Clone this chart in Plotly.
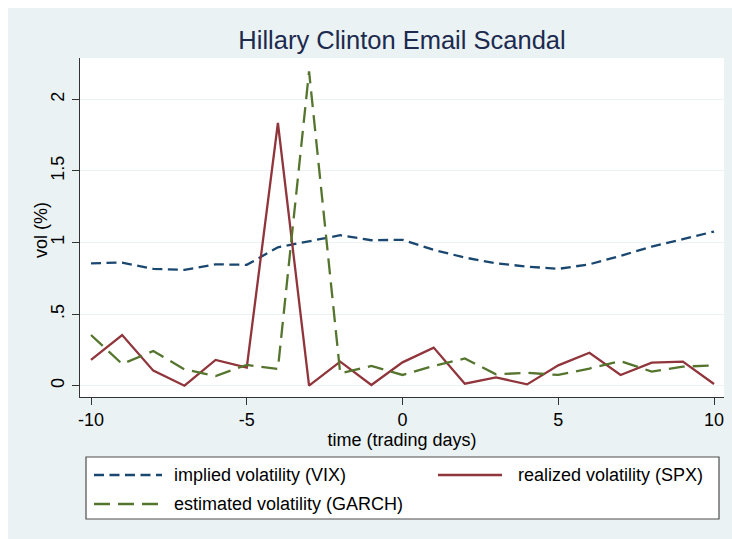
import plotly.graph_objects as go

# ---- data ----
days = list(range(-10, 11))
vix = [0.855, 0.86, 0.816, 0.809, 0.848, 0.844, 0.967, 1.007, 1.051, 1.016, 1.019,
       0.949, 0.895, 0.855, 0.832, 0.816, 0.848, 0.907, 0.972, 1.023, 1.077]
spx = [0.18, 0.354, 0.105, 0.0, 0.18, 0.126, 1.835, 0.0, 0.168, 0.005, 0.163,
       0.266, 0.014, 0.058, 0.009, 0.142, 0.23, 0.075, 0.161, 0.168, 0.012]
garch = [0.354, 0.152, 0.242, 0.114, 0.068, 0.145, 0.117, 2.196, 0.086, 0.138, 0.075,
         0.138, 0.19, 0.079, 0.09, 0.075, 0.12, 0.172, 0.098, 0.133, 0.142]

series_names = ["implied volatility (VIX)", "realized volatility (SPX)",
                "estimated volatility (GARCH)"]
y_tickvals = [0, 0.5, 1, 1.5, 2]
y_ticktext = ["0", ".5", "1", "1.5", "2"]
x_tickvals = [-10, -5, 0, 5, 10]
x_ticktext = ["-10", "-5", "0", "5", "10"]

# ---- style ----
W, H = 732, 539
ML, MR, MT, MB = 80, 8, 58, 142
PW, PH = W - ML - MR, H - MT - MB
BG = "#eaf2f3"
NAVY = "#1a476f"
MAROON = "#90353b"
GREEN = "#55752f"
FONT = "Liberation Sans, Arial, Helvetica, sans-serif"
FS = 18
VIX_DASH = "10px,5.5px"
GARCH_DASH = "16px,8px"
LW = 2.3


def px_x(p):
    return (p - ML) / PW


def px_y(p):
    return (H - MB - p) / PH


fig = go.Figure()
fig.add_trace(go.Scatter(x=days, y=vix, mode="lines", name=series_names[0],
                         line=dict(color=NAVY, width=LW, dash=VIX_DASH), showlegend=False))
fig.add_trace(go.Scatter(x=days, y=spx, mode="lines", name=series_names[1],
                         line=dict(color=MAROON, width=LW), showlegend=False))
fig.add_trace(go.Scatter(x=days, y=garch, mode="lines", name=series_names[2],
                         line=dict(color=GREEN, width=LW, dash=GARCH_DASH), showlegend=False))

shapes = []
annotations = []
# white outer margin (top and left strips)
shapes.append(dict(type="rect", xref="paper", yref="paper", x0=px_x(-20), x1=px_x(8),
                   y0=px_y(560), y1=px_y(-20), fillcolor="white", line=dict(width=0), layer="above"))
shapes.append(dict(type="rect", xref="paper", yref="paper", x0=px_x(-20), x1=px_x(760),
                   y0=px_y(8), y1=px_y(-20), fillcolor="white", line=dict(width=0), layer="above"))

# manual legend box
shapes.append(dict(type="rect", xref="paper", yref="paper", x0=px_x(86), x1=px_x(719),
                   y0=px_y(519), y1=px_y(457), fillcolor="white",
                   line=dict(color="#4d4d4d", width=1.2), layer="above"))
legend_items = [
    (series_names[0], NAVY, VIX_DASH, 94, 162, 475, 172),
    (series_names[1], MAROON, "solid", 438, 502, 475, 516),
    (series_names[2], GREEN, GARCH_DASH, 94, 160, 504, 172),
]
for name, col, dash, xa, xb, yy, xt in legend_items:
    shapes.append(dict(type="line", xref="paper", yref="paper", x0=px_x(xa), x1=px_x(xb),
                       y0=px_y(yy), y1=px_y(yy), line=dict(color=col, width=LW, dash=dash),
                       layer="above"))
    annotations.append(dict(text=name, xref="paper", yref="paper", x=px_x(xt), y=px_y(yy),
                            xanchor="left", yanchor="middle", showarrow=False,
                            font=dict(family=FONT, size=FS, color="black")))

# y-axis title placed explicitly
annotations.append(dict(text="vol (%)", xref="paper", yref="paper", x=px_x(41),
                        y=px_y(230), xanchor="center", yanchor="middle", textangle=-90,
                        showarrow=False, font=dict(family=FONT, size=FS, color="black")))

fig.update_layout(
    width=W, height=H,
    margin=dict(l=ML, r=MR, t=MT, b=MB, pad=0),
    paper_bgcolor=BG, plot_bgcolor="white",
    font=dict(family=FONT, size=FS, color="black"),
    title=dict(text="Hillary Clinton Email Scandal", x=0.5, xref="paper",
               y=1 - 40 / H, yref="container", xanchor="center", yanchor="middle",
               font=dict(family=FONT, size=25.5, color="#1c2a4f")),
    showlegend=False,
    shapes=shapes,
    annotations=annotations,
)
fig.update_xaxes(
    range=[-10.353, 10.32], tickvals=x_tickvals, ticktext=x_ticktext, ticks="outside",
    ticklen=7, tickcolor="#333333", tickwidth=1, showline=True, linecolor="#333333",
    linewidth=1, showgrid=False, zeroline=False, tickfont=dict(size=FS, color="black"),
    ticklabelstandoff=-1,
    title=dict(text="time (trading days)", font=dict(size=FS, color="black"), standoff=4),
)
fig.update_yaxes(
    range=[-0.079, 2.289], tickvals=y_tickvals, ticktext=y_ticktext, tickangle=-90,
    ticks="outside", ticklen=7, tickcolor="#333333", tickwidth=1, showline=True,
    linecolor="#333333", linewidth=1, showgrid=True, gridcolor=BG, gridwidth=1.2,
    zeroline=False, tickfont=dict(size=FS, color="black"), ticklabelstandoff=1,
)

fig.write_html("out.html")
